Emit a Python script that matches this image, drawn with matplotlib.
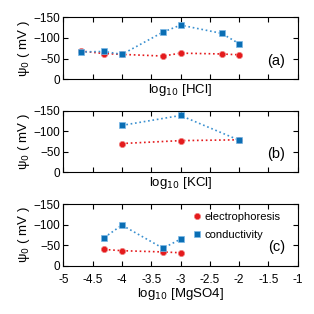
import matplotlib
matplotlib.use("Agg")
import matplotlib.pyplot as plt

plt.rcParams["font.family"] = ["Liberation Sans", "DejaVu Sans"]

# panel (a): HCl
hcl_x = [-4.7, -4.3, -4.0, -3.3, -3.0, -2.3, -2.0]
hcl_elec = [-68, -62, -60, -56, -63, -61, -59]
hcl_cond = [-66, -67, -60, -114, -131, -111, -86]

# panel (b): KCl
kcl_x = [-4.0, -3.0, -2.0]
kcl_elec = [-70, -77, -79]
kcl_cond = [-114, -138, -78]

# panel (c): MgSO4
mg_x = [-4.3, -4.0, -3.3, -3.0]
mg_elec = [-40, -37, -34, -32]
mg_cond = [-69, -99, -43, -65]

panels = [
    ("(a)", "log$_{10}$ [HCl]", hcl_x, hcl_elec, hcl_cond),
    ("(b)", "log$_{10}$ [KCl]", kcl_x, kcl_elec, kcl_cond),
    ("(c)", "log$_{10}$ [MgSO4]", mg_x, mg_elec, mg_cond),
]
xtick_labels = ["-5", "-4.5", "-4", "-3.5", "-3", "-2.5", "-2", "-1.5", "-1"]

red = "#e41a1c"
blue = "#0a6eb4"

fig = plt.figure(figsize=(3.14, 3.14), dpi=100)
bottoms = [0.748, 0.451, 0.153]

for (tag, xlabel, x, elec, cond), b in zip(panels, bottoms):
    ax = fig.add_axes([0.2017, b, 0.7465, 0.197])
    ax.plot(x, elec, color=red, linestyle=":", linewidth=1.2, marker="o",
            markersize=4.5, markeredgecolor="#f08080", markeredgewidth=0.5,
            label="electrophoresis")
    ax.plot(x, cond, color="#3a90d0", linestyle=":", linewidth=1.2, marker="s",
            markersize=4.5, markerfacecolor=blue, markeredgecolor="#7ab8e6",
            markeredgewidth=0.5, label="conductivity")
    ax.set_xlim(-5, -1)
    ax.set_ylim(0, -150)
    ax.set_yticks([0, -50, -100, -150])
    ax.set_xticks([-5, -4.5, -4, -3.5, -3, -2.5, -2, -1.5, -1])
    ax.tick_params(direction="in", top=True, right=True, length=3.5,
                   width=0.8, labelsize=8.5)
    ax.tick_params(axis="y", pad=2)
    ax.tick_params(axis="x", pad=6)
    ax.set_ylabel("ψ$_0$ ( mV )", fontsize=9.5, labelpad=1)
    for s in ax.spines.values():
        s.set_linewidth(0.8)
    ax.text(0.946, 0.30, tag, transform=ax.transAxes, ha="right", va="center",
            fontsize=10.5)
    if tag != "(c)":
        ax.tick_params(axis="x", labelbottom=False)
        ax.set_xlabel(xlabel, fontsize=9.5, labelpad=2)
    else:
        ax.set_xticklabels(xtick_labels)
        ax.set_xlabel(xlabel, fontsize=9.5, labelpad=0)
        leg = ax.legend(loc="upper right", bbox_to_anchor=(0.96, 1.0),
                        frameon=False, fontsize=8, handlelength=0.5,
                        handletextpad=0.4, labelspacing=0.75, borderaxespad=0.3)
        for line in leg.get_lines():
            line.set_linestyle("")

fig.savefig("out.png", dpi=100)
